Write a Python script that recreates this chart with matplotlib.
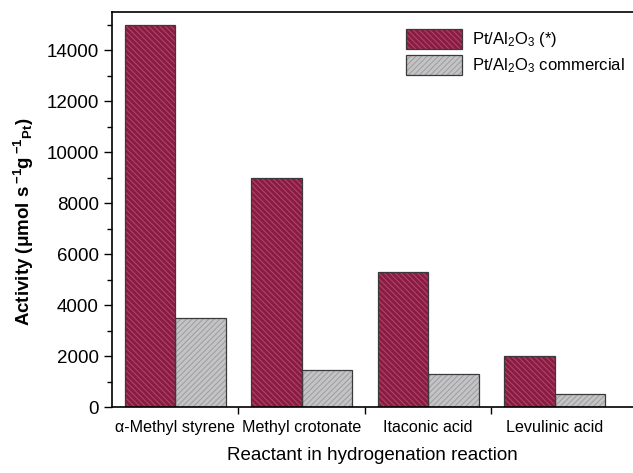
import matplotlib
matplotlib.use('Agg')
import matplotlib.pyplot as plt
import numpy as np
from matplotlib.patches import Patch
from matplotlib.legend_handler import HandlerTuple
from matplotlib.ticker import MultipleLocator, FixedLocator

plt.rcParams['font.family'] = ['Liberation Sans', 'DejaVu Sans']
plt.rcParams['mathtext.fontset'] = 'custom'
plt.rcParams['mathtext.rm'] = 'Liberation Sans'
plt.rcParams['mathtext.it'] = 'Liberation Sans:italic'
plt.rcParams['mathtext.bf'] = 'Liberation Sans:bold'
plt.rcParams['hatch.linewidth'] = 0.7

# data
reactants = ['α-Methyl styrene', 'Methyl crotonate', 'Itaconic acid', 'Levulinic acid']
pt_star = [15000, 9000, 5300, 2000]
pt_commercial = [3500, 1450, 1300, 500]

red_face, red_hatch = '#8a1c44', '#b04a6c'
grey_face, grey_hatch = '#c4c4c6', '#9c9c9e'
red_h = '\\\\\\\\\\\\'
grey_h = '//////'

fig = plt.figure(figsize=(6.33, 4.73), dpi=100)
ax = fig.add_axes([112/633, 66/473, 1 - 112/633, 395/473])

x = np.arange(len(reactants))
w = 0.4

# hatched fills first, then dark outlines on top
ax.bar(x - w/2, pt_star, w, color=red_face, edgecolor=red_hatch, hatch=red_h, linewidth=0)
ax.bar(x + w/2, pt_commercial, w, color=grey_face, edgecolor=grey_hatch, hatch=grey_h, linewidth=0)
ax.bar(x - w/2, pt_star, w, fill=False, edgecolor='#3a3a3a', linewidth=0.9)
ax.bar(x + w/2, pt_commercial, w, fill=False, edgecolor='#3a3a3a', linewidth=0.9)

ax.set_xlim(-0.5, 3.62)
ax.set_ylim(0, 15500)
ax.spines['right'].set_visible(False)
for s in ['left', 'bottom', 'top']:
    ax.spines[s].set_linewidth(1.2)

ax.set_xticks(x)
ax.set_xticklabels(reactants, fontsize=11.6)
ax.xaxis.set_minor_locator(FixedLocator([0.5, 1.5, 2.5]))
ax.tick_params(axis='x', which='major', length=0, pad=9)
ax.tick_params(axis='x', which='minor', length=5, direction='out', width=1)

ax.yaxis.set_major_locator(MultipleLocator(2000))
ax.yaxis.set_minor_locator(MultipleLocator(1000))
ax.tick_params(axis='y', which='major', length=6, direction='out', width=1, labelsize=13.5)
ax.tick_params(axis='y', which='minor', length=3.5, direction='out', width=1)

ax.set_ylabel(r'Activity (μmol s$\,^{\mathregular{-1}}$g$\,^{\mathregular{-1}}$$_{\mathregular{Pt}}$)',
              fontsize=13.5, fontweight='bold')
ax.yaxis.set_label_coords(-0.145, 0.47)
ax.set_xlabel('Reactant in hydrogenation reaction', fontsize=13.5, labelpad=9)

h1 = (Patch(facecolor=red_face, edgecolor=red_hatch, hatch=red_h, linewidth=0),
      Patch(fill=False, edgecolor='#3a3a3a', linewidth=0.9))
h2 = (Patch(facecolor=grey_face, edgecolor=grey_hatch, hatch=grey_h, linewidth=0),
      Patch(fill=False, edgecolor='#3a3a3a', linewidth=0.9))
ax.legend([h1, h2], [r'Pt/Al$_2$O$_3$ (*)', r'Pt/Al$_2$O$_3$ commercial'],
          handler_map={tuple: HandlerTuple(ndivide=1, pad=0)},
          loc='upper left', bbox_to_anchor=(0.535, 0.995), frameon=False,
          fontsize=12, handlelength=3.4, handleheight=1.45, labelspacing=0.35,
          handletextpad=0.6)

fig.savefig('out.png', dpi=100)
